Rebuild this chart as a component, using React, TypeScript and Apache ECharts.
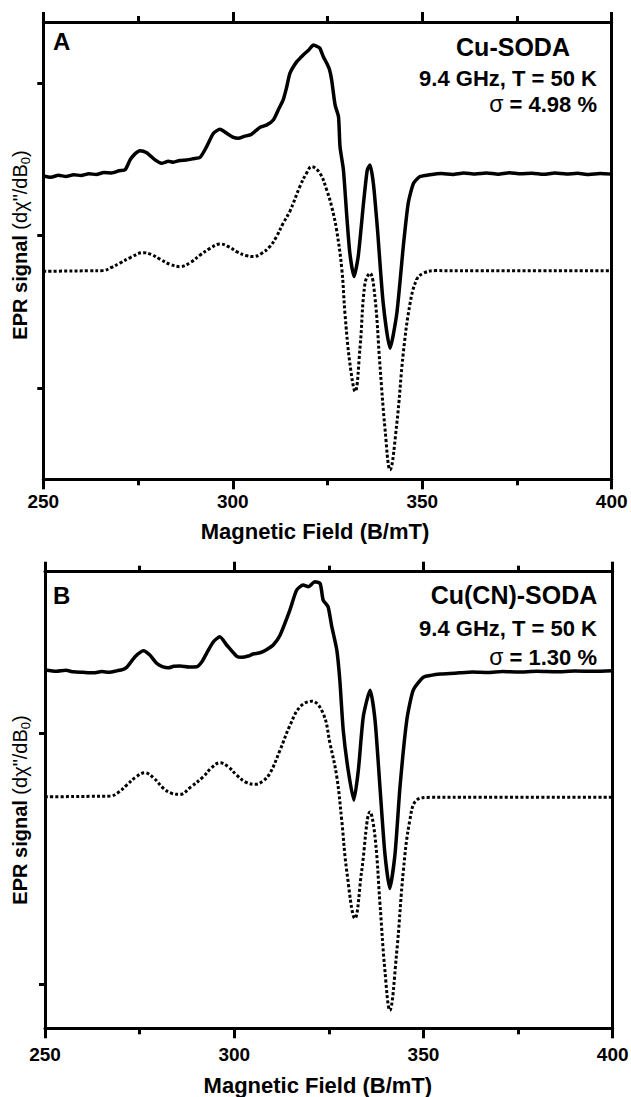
import React, { useEffect, useRef } from "react";
import * as echarts from "echarts";

// ---------- Panel A (Cu-SODA) ----------
const fieldExpA = [250, 252, 254, 256, 258, 260, 262, 264, 266, 268, 270, 271.6, 272.9, 274.2, 275.5, 277.3, 279.5, 281.2, 283, 284.3, 286, 287.8, 289.5, 291.4, 293.1, 294.9, 296.6, 298.4, 300, 301.5, 303, 304.6, 306, 307.2, 309, 310.7, 312, 313.3, 314.2, 315.1, 316.9, 318.6, 320, 321.3, 322.2, 323, 323.9, 324.8, 325.5, 326.1, 327, 327.9, 328.3, 329.2, 330.1, 330.9, 332, 333.1, 334.5, 335.5, 336.2, 337.1, 338.2, 339.7, 341.5, 343.3, 345, 346.3, 347.7, 349.4, 352, 355, 358, 361, 364, 367, 370, 373, 376, 379, 382, 385, 388, 391, 394, 397, 400];
const signalExpA = [139.0, 138.2, 139.4, 138.7, 139.8, 139.3, 140.4, 140.0, 141.2, 141.0, 142.4, 143.0, 149.5, 153.5, 155.6, 154.3, 149.5, 147.3, 148.6, 148.0, 149.2, 149.5, 150.3, 151.3, 158.2, 167.0, 169.6, 167.0, 164.5, 163.7, 165.0, 165.9, 168.5, 170.9, 172.5, 175.7, 182.3, 188.9, 197.0, 206.4, 214.0, 218.4, 221.5, 224.9, 224.0, 222.8, 217.2, 212.9, 209.0, 202.0, 185.6, 177.9, 158.2, 143.0, 112.3, 88.3, 73.0, 86.1, 121.1, 143.0, 146.2, 134.2, 103.6, 55.5, 26.0, 49.0, 92.7, 121.1, 134.2, 138.6, 139.8, 140.6, 140.0, 141.0, 140.3, 140.9, 140.2, 141.1, 140.4, 140.8, 140.1, 140.9, 140.3, 140.7, 140.0, 140.6, 140.2];
const fieldSimA = [250, 256, 262, 265.8, 268, 270.2, 273, 276.4, 278.5, 280.8, 283.5, 286.1, 289, 291.4, 294, 296.6, 299, 301, 303.5, 305.4, 307.5, 309.8, 311.5, 313.3, 315.1, 317.7, 319.5, 320.8, 323, 324.8, 326.1, 327.4, 328.8, 329.6, 330.9, 332.3, 333.6, 334.9, 336.2, 337.5, 338.8, 340.2, 341.5, 343.3, 345, 346.8, 348.5, 350.3, 353.8, 360, 400];
const signalSimA = [76.5, 76.6, 76.8, 76.9, 79.0, 81.8, 85.5, 88.7, 87.5, 84.4, 81.0, 79.5, 82.5, 87.2, 91.5, 94.4, 92.5, 89.4, 86.8, 86.1, 88.0, 92.7, 99.0, 108.0, 116.0, 132.0, 141.0, 145.1, 140.8, 129.8, 118.9, 103.6, 77.4, 49.0, 16.2, -2.4, 27.1, 68.7, 75.2, 59.9, 16.2, -27.5, -53.8, -23.1, 22.8, 55.5, 70.8, 75.2, 76.9, 76.8, 76.8];

// ---------- Panel B (Cu(CN)-SODA) ----------
const fieldExpB = [250, 253, 255.5, 257.5, 260, 262.8, 265, 267, 268.9, 270.5, 271.6, 273.8, 276, 277.7, 279.5, 281, 282.6, 284, 285.7, 288, 290.1, 291.5, 292.7, 294.5, 296.2, 298, 300.6, 302, 303.7, 305, 306.8, 308.5, 310.3, 312.1, 314.7, 316.5, 318.2, 319.6, 321.3, 322.7, 323.5, 324.8, 325.7, 327.1, 327.9, 328.8, 330.1, 331.6, 332.8, 334.1, 335.9, 337.2, 338.5, 339.8, 341.1, 342.5, 343.8, 345.6, 347.3, 349.9, 352, 354.4, 357, 359.6, 363, 367, 371, 375, 380, 385, 390, 395, 400];
const signalExpB = [125.1, 124.6, 125.0, 124.4, 124.2, 124.0, 124.5, 124.2, 124.8, 125.3, 126.2, 130.4, 132.8, 131.1, 127.8, 126.5, 126.0, 126.6, 126.7, 126.3, 126.4, 128.5, 131.8, 136.4, 138.4, 135.1, 130.7, 130.2, 130.7, 131.5, 132.0, 133.2, 135.1, 139.0, 149.0, 157.0, 159.0, 158.3, 160.3, 159.6, 153.0, 150.3, 143.0, 133.1, 121.1, 101.2, 85.3, 73.3, 85.3, 106.5, 117.1, 105.2, 78.6, 52.1, 38.1, 52.1, 78.6, 105.2, 117.1, 122.2, 123.0, 123.5, 123.7, 124.0, 124.3, 124.1, 124.5, 124.3, 124.6, 124.4, 124.7, 124.6, 124.8];
const fieldSimB = [250, 256, 262, 267.2, 269.5, 271.6, 274, 276.4, 278.8, 281.3, 283.5, 285.7, 288.5, 291.8, 294, 296.2, 298.5, 300.6, 303, 305.5, 307.5, 309.4, 312.1, 314.7, 317.4, 320.5, 323.5, 325.3, 327.1, 328.4, 329.7, 331.9, 333.7, 335.9, 337.2, 338.5, 339.8, 341.1, 342.9, 344.7, 346.4, 348.2, 351.7, 360, 400];
const signalSimB = [74.6, 74.7, 74.8, 74.9, 76.5, 79.3, 82.5, 84.2, 82.0, 78.0, 76.0, 75.6, 78.5, 82.6, 86.2, 88.2, 86.5, 83.3, 80.5, 79.6, 80.8, 83.9, 93.2, 103.0, 110.5, 112.7, 107.8, 95.9, 82.6, 65.3, 45.4, 26.2, 45.4, 68.6, 58.7, 32.2, 5.6, -10.4, 12.2, 45.4, 65.3, 73.3, 74.4, 74.4, 74.4];

// ---------- Axes ----------
const xTicks = [250, 300, 350, 400];
const yTicksA = [0, 100, 200];
const yTicksB = [0, 100];
const yRangeA = [-60, 240];
const yRangeB = [-17.6, 164.3];

// ---------- Texts ----------
const xName = "Magnetic Field (B/mT)";
const panelLetters = ["A", "B"];
const titles = ["Cu-SODA", "Cu(CN)-SODA"];
const conditions = ["9.4 GHz, T = 50 K", "9.4 GHz, T = 50 K"];
const sigmas = ["4.98 %", "1.30 %"];

const FONT = "'Liberation Sans', Arial, Helvetica, sans-serif";

const zip = (xs: number[], ys: number[]) => xs.map((x, i) => [x, ys[i]]);

function xAxes(gridIndex: number, labelMargin: number, nameGap: number, padRight: number) {
  const common = {
    gridIndex,
    type: "value",
    min: xTicks[0],
    max: xTicks[xTicks.length - 1],
    interval: xTicks[1] - xTicks[0],
    axisLine: { show: true, onZero: false, lineStyle: { color: "#000", width: 3 } },
    axisTick: { show: true, inside: false, length: 10, lineStyle: { color: "#000", width: 3 } },
    minorTick: { show: true, splitNumber: 2, length: 6, lineStyle: { color: "#000", width: 3 } },
    splitLine: { show: false },
    minorSplitLine: { show: false },
  };
  return [
    {
      ...common,
      position: "bottom",
      axisLabel: {
        show: true,
        color: "#000",
        fontFamily: FONT,
        fontWeight: "bold",
        fontSize: 19,
        margin: labelMargin,
      },
      name: xName,
      nameLocation: "middle",
      nameGap,
      nameTextStyle: {
        color: "#000",
        fontFamily: FONT,
        fontWeight: "bold",
        fontSize: 22,
        padding: [0, padRight, 0, 0],
      },
    },
    { ...common, position: "top", axisLabel: { show: false } },
  ];
}

function yAxes(gridIndex: number, range: number[], ticks: number[]) {
  const common = {
    gridIndex,
    type: "value",
    min: range[0],
    max: range[1],
    splitLine: { show: false },
    axisLabel: { show: false },
    axisLine: { show: true, onZero: false, lineStyle: { color: "#000", width: 3 } },
  };
  return [
    {
      ...common,
      position: "left",
      axisTick: {
        show: true,
        length: 6,
        customValues: ticks,
        lineStyle: { color: "#000", width: 3 },
      },
    },
    { ...common, position: "right", axisTick: { show: false } },
  ];
}

function seriesFor(xIdx: number, yIdx: number, expX: number[], expY: number[], simX: number[], simY: number[]) {
  return [
    {
      type: "line",
      xAxisIndex: xIdx,
      yAxisIndex: yIdx,
      data: zip(expX, expY),
      showSymbol: false,
      smooth: 0.2,
      lineStyle: { color: "#000", width: 3.5, join: "round" },
    },
    {
      type: "line",
      xAxisIndex: xIdx,
      yAxisIndex: yIdx,
      data: zip(simX, simY),
      showSymbol: false,
      smooth: 0.4,
      lineStyle: { color: "#000", width: 3, type: [3, 2.2], cap: "butt" },
    },
  ];
}

function panelTexts(i: number, letterY: number, titleX: number, titleY: number, condY: number, sigmaY: number, yNameY: number) {
  return [
    {
      type: "text",
      x: 53,
      y: letterY,
      style: { text: panelLetters[i], fill: "#000", font: `bold 24px ${FONT}`, align: "left", verticalAlign: "middle" },
    },
    {
      type: "text",
      x: titleX,
      y: titleY,
      style: { text: titles[i], fill: "#000", font: `bold 25px ${FONT}`, align: "center", verticalAlign: "middle" },
    },
    {
      type: "text",
      x: 597,
      y: condY,
      style: { text: conditions[i], fill: "#000", font: `bold 22px ${FONT}`, align: "right", verticalAlign: "middle" },
    },
    {
      type: "text",
      x: 597,
      y: sigmaY,
      style: {
        text: `{s|σ} {b|= ${sigmas[i]}}`,
        fill: "#000",
        font: `bold 22px ${FONT}`,
        align: "right",
        verticalAlign: "middle",
        rich: {
          s: { fill: "#000", fontFamily: FONT, fontWeight: "normal", fontSize: 23 },
          b: { fill: "#000", fontFamily: FONT, fontWeight: "bold", fontSize: 22 },
        },
      },
    },
    {
      type: "text",
      x: 20,
      y: yNameY,
      rotation: Math.PI / 2,
      style: {
        text: '{b|EPR signal} {n|(dχ"/dB}{s|0}{n|)}',
        fill: "#000",
        font: `20px ${FONT}`,
        align: "center",
        verticalAlign: "middle",
        rich: {
          b: { fill: "#000", fontFamily: FONT, fontWeight: "bold", fontSize: 20, lineHeight: 24 },
          n: { fill: "#000", fontFamily: FONT, fontWeight: "normal", fontSize: 20, lineHeight: 24 },
          s: { fill: "#000", fontFamily: FONT, fontWeight: "normal", fontSize: 13, lineHeight: 14, verticalAlign: "bottom" },
        },
      },
    },
  ];
}

export default function App() {
  const ref = useRef<HTMLDivElement>(null);
  useEffect(() => {
    if (!ref.current) return;
    const chart = echarts.init(ref.current, null, { renderer: "svg" });
    const option: any = {
      animation: false,
      backgroundColor: "#fff",
      grid: [
        { left: 43.3, top: 22, width: 568.4, height: 457.3, containLabel: false, outerBoundsMode: "none" },
        { left: 45, top: 571.7, width: 567.7, height: 456.6, containLabel: false, outerBoundsMode: "none" },
      ],
      xAxis: [...xAxes(0, 13, 41, 25), ...xAxes(1, 17, 46, 22)],
      yAxis: [...yAxes(0, yRangeA, yTicksA), ...yAxes(1, yRangeB, yTicksB)],
      series: [
        ...seriesFor(0, 0, fieldExpA, signalExpA, fieldSimA, signalSimA),
        ...seriesFor(2, 2, fieldExpB, signalExpB, fieldSimB, signalSimB),
      ],
      graphic: [
        ...panelTexts(0, 41, 513, 47, 78.5, 104, 245),
        ...panelTexts(1, 595, 514, 595, 628.5, 657, 810),
      ],
    };
    chart.setOption(option);
    return () => chart.dispose();
  }, []);
  return (
    <div
      ref={ref}
      style={{ position: "fixed", left: 0, top: 0, width: 631, height: 1097, background: "#fff" }}
    />
  );
}
